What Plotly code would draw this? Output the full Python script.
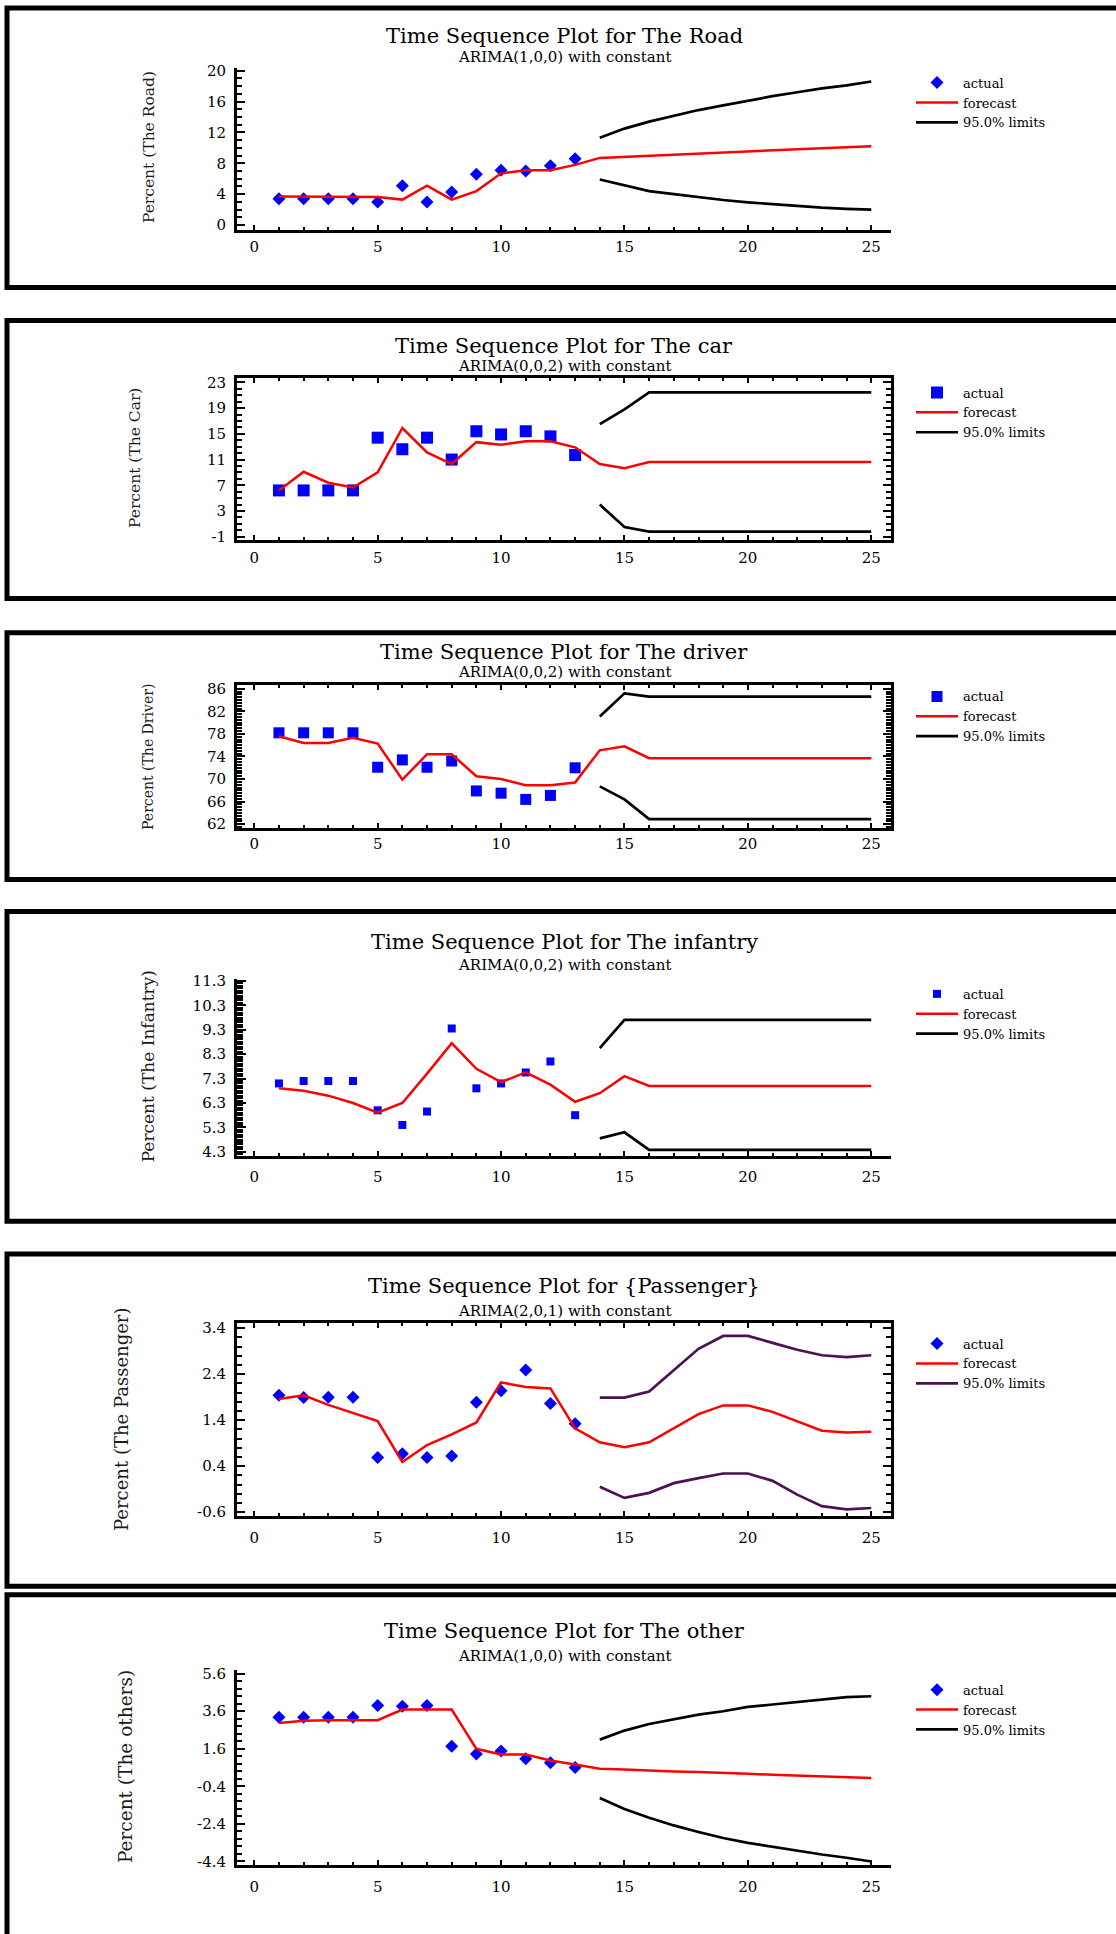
import plotly.graph_objects as go

# ---------------- DATA ----------------
time_actual = [1, 2, 3, 4, 5, 6, 7, 8, 9, 10, 11, 12, 13]
time_all = [1, 2, 3, 4, 5, 6, 7, 8, 9, 10, 11, 12, 13, 14, 15, 16, 17, 18, 19, 20, 21, 22, 23, 24, 25]
time_limits = [14, 15, 16, 17, 18, 19, 20, 21, 22, 23, 24, 25]

x_tickvals = [0, 5, 10, 15, 20, 25]
x_ticktext = ["0", "5", "10", "15", "20", "25"]

# Panel 1: The Road
road_actual = [3.4, 3.4, 3.4, 3.4, 3.0, 5.1, 3.0, 4.3, 6.6, 7.1, 7.0, 7.7, 8.6]
road_forecast = [3.7, 3.7, 3.7, 3.7, 3.65, 3.3, 5.1, 3.3, 4.4, 6.7, 7.1, 7.1, 7.8,
                 8.7, 8.85, 9.0, 9.15, 9.3, 9.45, 9.6, 9.72, 9.84, 9.96, 10.08, 10.2]
road_upper = [11.3, 12.5, 13.4, 14.2, 14.9, 15.5, 16.1, 16.7, 17.2, 17.7, 18.1, 18.6]
road_lower = [5.9, 5.15, 4.4, 4.0, 3.6, 3.25, 2.95, 2.7, 2.5, 2.25, 2.1, 2.0]
road_yticks = [0, 4, 8, 12, 16, 20]
road_yticklabels = ["0", "4", "8", "12", "16", "20"]

# Panel 2: The car
car_actual = [6.2, 6.2, 6.2, 6.2, 14.4, 12.6, 14.4, 11.0, 15.4, 14.9, 15.4, 14.6, 11.7]
car_forecast = [6.2, 9.1, 7.4, 6.65, 9.0, 15.9, 12.1, 10.3, 13.7, 13.3, 13.85, 13.85, 12.9,
                10.3, 9.65, 10.6, 10.6, 10.6, 10.6, 10.6, 10.6, 10.6, 10.6, 10.6, 10.6]
car_upper = [16.5, 18.8, 21.45, 21.45, 21.45, 21.45, 21.45, 21.45, 21.45, 21.45, 21.45, 21.45]
car_lower = [4.0, 0.5, -0.2, -0.2, -0.2, -0.2, -0.2, -0.2, -0.2, -0.2, -0.2, -0.2]
car_yticks = [-1, 3, 7, 11, 15, 19, 23]
car_yticklabels = ["-1", "3", "7", "11", "15", "19", "23"]

# Panel 3: The driver
driver_actual = [78.2, 78.2, 78.2, 78.2, 72.1, 73.4, 72.1, 73.2, 67.9, 67.5, 66.4, 67.1, 72.0]
driver_forecast = [77.6, 76.4, 76.4, 77.3, 76.3, 69.9, 74.4, 74.4, 70.5, 70.0, 68.9, 68.9, 69.4,
                   75.1, 75.8, 73.7, 73.7, 73.7, 73.7, 73.7, 73.7, 73.7, 73.7, 73.7, 73.7]
driver_upper = [81.1, 85.2, 84.6, 84.6, 84.6, 84.6, 84.6, 84.6, 84.6, 84.6, 84.6, 84.6]
driver_lower = [68.7, 66.4, 62.9, 62.9, 62.9, 62.9, 62.9, 62.9, 62.9, 62.9, 62.9, 62.9]
driver_yticks = [62, 66, 70, 74, 78, 82, 86]
driver_yticklabels = ["62", "66", "70", "74", "78", "82", "86"]

# Panel 4: The infantry
infantry_actual = [7.1, 7.2, 7.2, 7.2, 6.0, 5.4, 5.95, 9.35, 6.9, 7.1, 7.55, 8.0, 5.8]
infantry_forecast = [6.9, 6.8, 6.6, 6.3, 5.9, 6.3, 7.5, 8.75, 7.7, 7.15, 7.55, 7.05, 6.35,
                     6.7, 7.4, 7.0, 7.0, 7.0, 7.0, 7.0, 7.0, 7.0, 7.0, 7.0, 7.0]
infantry_upper = [8.55, 9.7, 9.7, 9.7, 9.7, 9.7, 9.7, 9.7, 9.7, 9.7, 9.7, 9.7]
infantry_lower = [4.85, 5.1, 4.38, 4.38, 4.38, 4.38, 4.38, 4.38, 4.38, 4.38, 4.38, 4.38]
infantry_yticks = [4.3, 5.3, 6.3, 7.3, 8.3, 9.3, 10.3, 11.3]
infantry_yticklabels = ["4.3", "5.3", "6.3", "7.3", "8.3", "9.3", "10.3", "11.3"]

# Panel 5: Passenger
passenger_actual = [1.94, 1.89, 1.90, 1.90, 0.59, 0.67, 0.59, 0.62, 1.79, 2.04, 2.49, 1.76, 1.32]
passenger_forecast = [1.86, 1.94, 1.73, 1.55, 1.38, 0.49, 0.86, 1.09, 1.35, 2.22, 2.12, 2.09, 1.22,
                      0.92, 0.81, 0.92, 1.22, 1.53, 1.72, 1.72, 1.58, 1.38, 1.17, 1.13, 1.15]
passenger_upper = [1.89, 1.89, 2.02, 2.48, 2.95, 3.23, 3.23, 3.08, 2.93, 2.81, 2.77, 2.81]
passenger_lower = [-0.05, -0.29, -0.18, 0.03, 0.14, 0.24, 0.24, 0.08, -0.22, -0.47, -0.54, -0.51]
passenger_yticks = [-0.6, 0.4, 1.4, 2.4, 3.4]
passenger_yticklabels = ["-0.6", "0.4", "1.4", "2.4", "3.4"]

# Panel 6: The other
other_actual = [3.28, 3.28, 3.28, 3.28, 3.9, 3.86, 3.9, 1.74, 1.32, 1.48, 1.07, 0.86, 0.6]
other_forecast = [2.98, 3.1, 3.12, 3.12, 3.12, 3.69, 3.69, 3.69, 1.6, 1.3, 1.3, 0.98, 0.77,
                  0.54, 0.5, 0.43, 0.39, 0.36, 0.3, 0.27, 0.22, 0.18, 0.13, 0.08, 0.04]
other_upper = [2.09, 2.57, 2.92, 3.19, 3.42, 3.6, 3.83, 3.96, 4.1, 4.22, 4.35, 4.4]
other_lower = [-1.02, -1.6, -2.07, -2.48, -2.83, -3.15, -3.41, -3.62, -3.84, -4.03, -4.2, -4.4]
other_yticks = [-4.4, -2.4, -0.4, 1.6, 3.6, 5.6]
other_yticklabels = ["-4.4", "-2.4", "-0.4", "1.6", "3.6", "5.6"]

titles = ["Time Sequence Plot for The Road", "Time Sequence Plot for The car",
          "Time Sequence Plot for The driver", "Time Sequence Plot for The infantry",
          "Time Sequence Plot for {Passenger}", "Time Sequence Plot for The other"]
subtitles = ["ARIMA(1,0,0) with constant", "ARIMA(0,0,2) with constant",
             "ARIMA(0,0,2) with constant", "ARIMA(0,0,2) with constant",
             "ARIMA(2,0,1) with constant", "ARIMA(1,0,0) with constant"]
ytitles = ["Percent (The Road)", "Percent (The Car)", "Percent (The Driver)",
           "Percent (The Infantry)", "Percent (The Passenger)", "Percent (The others)"]
legend_names = ["actual", "forecast", "95.0% limits"]

panel_data = [
    (road_actual, road_forecast, road_upper, road_lower, road_yticks, road_yticklabels),
    (car_actual, car_forecast, car_upper, car_lower, car_yticks, car_yticklabels),
    (driver_actual, driver_forecast, driver_upper, driver_lower, driver_yticks, driver_yticklabels),
    (infantry_actual, infantry_forecast, infantry_upper, infantry_lower, infantry_yticks, infantry_yticklabels),
    (passenger_actual, passenger_forecast, passenger_upper, passenger_lower, passenger_yticks, passenger_yticklabels),
    (other_actual, other_forecast, other_upper, other_lower, other_yticks, other_yticklabels),
]

# ---------------- LAYOUT / STYLE (pixel positions) ----------------
W, H = 1116, 1934
FONT = "DejaVu Serif"
PLOT_LEFT, PLOT_RIGHT = 237, 891
X_RANGE = [-0.7, 25.8]

styles = [
    dict(dy=-6, top=67, bottom=231, yr=[-0.7, 20.4], minor=1, tick0=0, box=False, sym="diamond", ms=10,
         lim="#000000", title_y=35, sub_y=56, yt_x=149, yt_y=147, yt_size=15.5,
         frame=(7, 288.5), leg_top=67, xstand=1, mlen=8, nlen=5),
    dict(dy=-4, top=378, bottom=541, yr=[-1.57, 23.6], minor=1, tick0=-1, box=True, sym="square", ms=12,
         lim="#000000", title_y=345, sub_y=365, yt_x=135, yt_y=458, yt_size=15.5,
         frame=(319.5, 599.5), leg_top=377, xstand=2, mlen=8, nlen=5),
    dict(dy=-1, top=684, bottom=828, yr=[61.25, 86.6], minor=0.5, tick0=62, box=True, sym="square", ms=11,
         lim="#000000", title_y=650, sub_y=671, yt_x=148, yt_y=756, yt_size=14,
         frame=(631, 879.5), leg_top=680, xstand=0, mlen=8, nlen=5),
    dict(dy=-0.5, top=979, bottom=1157, yr=[4.14, 11.38], minor=0.1, tick0=4.3, box=False, sym="square", ms=8,
         lim="#000000", title_y=942, sub_y=965, yt_x=148, yt_y=1067, yt_size=17,
         frame=(911, 1223), leg_top=979, xstand=5, mlen=9, nlen=6),
    dict(dy=0.5, top=1324, bottom=1519, yr=[-0.69, 3.52], minor=0.2, tick0=-0.6, box=True, sym="diamond", ms=10,
         lim="#4a1250", title_y=1287, sub_y=1312, yt_x=122, yt_y=1422, yt_size=18,
         frame=(1255, 1589.5), leg_top=1330, xstand=6, mlen=8, nlen=5),
    dict(dy=3, top=1671, bottom=1868, yr=[-4.61, 5.81], minor=0.4, tick0=-4.4, box=False, sym="diamond", ms=10,
         lim="#000000", title_y=1632, sub_y=1657, yt_x=125, yt_y=1769, yt_size=18.5,
         frame=(1595.5, 1950), leg_top=1676, xstand=6, mlen=8, nlen=5),
]


def px_x(v):
    return v / W


def px_y(v):
    return 1 - v / H


fig = go.Figure()
annotations = []
shapes = []
layout_extra = {}

for i, ((act, fc, up, lo, ytv, ytt), st) in enumerate(zip(panel_data, styles), start=1):
    sfx = "" if i == 1 else str(i)
    xa, ya = "x" + sfx, "y" + sfx
    leg = "legend" + sfx
    dy = st["dy"]

    fig.add_trace(go.Scatter(
        x=time_actual, y=act, mode="markers", name=legend_names[0],
        marker=dict(symbol=st["sym"], size=st["ms"], color="#0000FF", line=dict(width=0)),
        xaxis=xa, yaxis=ya, legend=leg, cliponaxis=False))
    fig.add_trace(go.Scatter(
        x=time_all, y=fc, mode="lines", name=legend_names[1],
        line=dict(color="#FF0000", width=2.5),
        xaxis=xa, yaxis=ya, legend=leg))
    fig.add_trace(go.Scatter(
        x=time_limits + [None] + time_limits, y=up + [None] + lo, mode="lines",
        name=legend_names[2], connectgaps=False,
        line=dict(color=st["lim"], width=2.7),
        xaxis=xa, yaxis=ya, legend=leg))

    mirror = "ticks" if st["box"] else False
    layout_extra["xaxis" + sfx] = dict(
        domain=[px_x(PLOT_LEFT), px_x(PLOT_RIGHT)], range=X_RANGE, anchor=ya,
        showline=True, linecolor="black", linewidth=3, mirror=mirror,
        ticks="inside", ticklen=5, tickwidth=2, tickcolor="black",
        tickmode="array", tickvals=x_tickvals, ticktext=x_ticktext,
        tickfont=dict(family=FONT, size=15, color="black"),
        ticklabelstandoff=st["xstand"],
        minor=dict(ticks="inside", ticklen=3, tickwidth=1.5, tickcolor="black",
                   tickmode="linear", tick0=0, dtick=1),
        showgrid=False, zeroline=False, fixedrange=True)
    layout_extra["yaxis" + sfx] = dict(
        domain=[px_y(st["bottom"] + dy), px_y(st["top"] + dy)], range=st["yr"], anchor=xa,
        showline=True, linecolor="black", linewidth=3, mirror=mirror,
        ticks="inside", ticklen=st["mlen"], tickwidth=2, tickcolor="black",
        tickmode="array", tickvals=ytv, ticktext=ytt,
        tickfont=dict(family=FONT, size=15, color="black"),
        ticklabelstandoff=5,
        minor=dict(ticks="inside", ticklen=st["nlen"], tickwidth=1.5, tickcolor="black",
                   tickmode="linear", tick0=st["tick0"], dtick=st["minor"]),
        showgrid=False, zeroline=False, fixedrange=True)
    layout_extra[leg] = dict(
        x=px_x(911), y=px_y(st["leg_top"] + dy), xanchor="left", yanchor="top",
        font=dict(family=FONT, size=13, color="black"),
        bgcolor="rgba(0,0,0,0)", borderwidth=0, itemwidth=42, tracegroupgap=0)

    cx = px_x((PLOT_LEFT + PLOT_RIGHT) / 2)
    annotations.append(dict(text=titles[i - 1], x=cx, y=px_y(st["title_y"] + dy), xref="paper", yref="paper",
                            xanchor="center", yanchor="middle", showarrow=False,
                            font=dict(family=FONT, size=21, color="black")))
    annotations.append(dict(text=subtitles[i - 1], x=cx, y=px_y(st["sub_y"] + dy), xref="paper", yref="paper",
                            xanchor="center", yanchor="middle", showarrow=False,
                            font=dict(family=FONT, size=15, color="black")))
    annotations.append(dict(text=ytitles[i - 1], x=px_x(st["yt_x"]), y=px_y(st["yt_y"] + dy),
                            xref="paper", yref="paper", textangle=-90,
                            xanchor="center", yanchor="middle", showarrow=False,
                            font=dict(family=FONT, size=st["yt_size"], color="#1a1a1a")))
    ft, fb = st["frame"]
    shapes.append(dict(type="rect", xref="paper", yref="paper",
                       x0=px_x(7), x1=px_x(W + 20), y0=px_y(fb + dy), y1=px_y(ft + dy),
                       line=dict(color="black", width=5), fillcolor="rgba(0,0,0,0)", layer="above"))

fig.update_layout(
    width=W, height=H, autosize=False,
    margin=dict(l=0, r=0, t=0, b=0),
    paper_bgcolor="white", plot_bgcolor="white",
    showlegend=True,
    annotations=annotations, shapes=shapes,
    **layout_extra)

fig.write_html(
    "out.html",
    config={"displayModeBar": False},
    post_script=("document.documentElement.style.margin='0';"
                 "document.body.style.margin='0';document.body.style.padding='0';"
                 "document.documentElement.style.overflow='hidden';"))
